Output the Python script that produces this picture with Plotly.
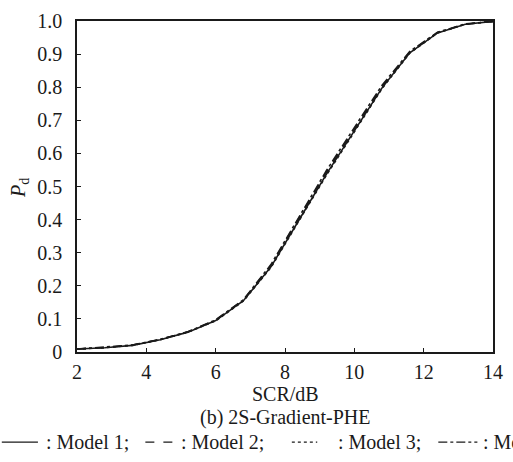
import plotly.graph_objects as go

scr = [2.0, 2.8, 3.6, 4.4, 5.2, 6.0, 6.8, 7.6, 8.4, 9.2, 10.0, 10.8, 11.6, 12.4, 13.2, 14.0]
model1 = [0.009, 0.013, 0.020, 0.037, 0.060, 0.095, 0.155, 0.258, 0.398, 0.538, 0.668, 0.798, 0.904, 0.964, 0.990, 0.999]
model2 = [0.009, 0.013, 0.021, 0.038, 0.061, 0.096, 0.157, 0.262, 0.404, 0.544, 0.673, 0.802, 0.906, 0.965, 0.990, 0.999]
model3 = [0.009, 0.013, 0.020, 0.037, 0.060, 0.094, 0.154, 0.256, 0.396, 0.535, 0.665, 0.796, 0.903, 0.964, 0.990, 0.999]
model4 = [0.009, 0.014, 0.021, 0.038, 0.061, 0.097, 0.158, 0.265, 0.408, 0.549, 0.678, 0.806, 0.908, 0.966, 0.991, 0.999]

series = [("Model 1", model1, "solid"), ("Model 2", model2, "dash"),
          ("Model 3", model3, "dot"), ("Model 4", model4, "dashdot")]

xticks = [2, 4, 6, 8, 10, 12, 14]
yticks = [0, 0.1, 0.2, 0.3, 0.4, 0.5, 0.6, 0.7, 0.8, 0.9, 1.0]
yticklabels = ["0", "0.1", "0.2", "0.3", "0.4", "0.5", "0.6", "0.7", "0.8", "0.9", "1.0"]

FONT = "Liberation Serif, Times New Roman, serif"
FS = 20
W, H = 513, 462
L, R, T, B = 77, 10, 18, 110
pw, ph = W - L - R, H - T - B

fig = go.Figure()
for name, vals, dash in series:
    fig.add_trace(go.Scatter(x=scr, y=vals, mode="lines", name=name,
                             line=dict(color="#1a1a1a", width=1.6, dash=dash)))

fig.update_layout(
    width=W, height=H, margin=dict(l=L, r=R, t=T, b=B),
    paper_bgcolor="white", plot_bgcolor="white", showlegend=False,
    font=dict(family=FONT, size=FS, color="#1a1a1a"),
)
fig.update_xaxes(range=[2, 14], tickvals=xticks, ticks="inside", ticklen=4,
                 tickcolor="#1a1a1a", showline=True, linecolor="#1a1a1a", linewidth=1.5,
                 mirror=True, showgrid=False, zeroline=False,
                 tickfont=dict(family=FONT, size=FS), ticklabelstandoff=1)
fig.update_yaxes(range=[0, 1.0], tickvals=yticks, ticktext=yticklabels, ticks="inside",
                 ticklen=4, tickcolor="#1a1a1a", showline=True, linecolor="#1a1a1a",
                 linewidth=1.5, mirror=True, showgrid=False, zeroline=False,
                 tickfont=dict(family=FONT, size=FS), ticklabelstandoff=9)

def px(x):
    return (x - L) / pw

def py(y):
    return (H - B - y) / ph

for text, yy in [("SCR/dB", 394), ("(b) 2S-Gradient-PHE", 418)]:
    fig.add_annotation(text=text, x=px(290), y=py(yy), xref="paper", yref="paper",
                       showarrow=False, xanchor="center", yanchor="middle",
                       font=dict(family=FONT, size=FS))
fig.add_annotation(text="<i>P</i><sub>d</sub>", x=px(18), y=py(186), xref="paper", yref="paper",
                   showarrow=False, textangle=-90, xanchor="center", yanchor="middle",
                   font=dict(family=FONT, size=FS))

# legend row
ly = 443
legend_items = [
    (0, 37, "solid", 43, ": Model 1;"),
    (147, 177, "dash", 181, ": Model 2;"),
    (297, 323, "dot", 342, ": Model 3;"),
    (447, 487, "dashdot", 491, ": Model 4"),
]
for x0, x1, dash, tx, label in legend_items:
    fig.add_shape(type="line", xref="paper", yref="paper", x0=px(x0), x1=px(x1),
                  y0=py(ly), y1=py(ly), line=dict(color="#1a1a1a", width=1.3, dash=dash))
    fig.add_annotation(text=label, x=px(tx), y=py(ly), xref="paper", yref="paper",
                       showarrow=False, xanchor="left", yanchor="middle",
                       font=dict(family=FONT, size=FS))

fig.write_html("out.html")
